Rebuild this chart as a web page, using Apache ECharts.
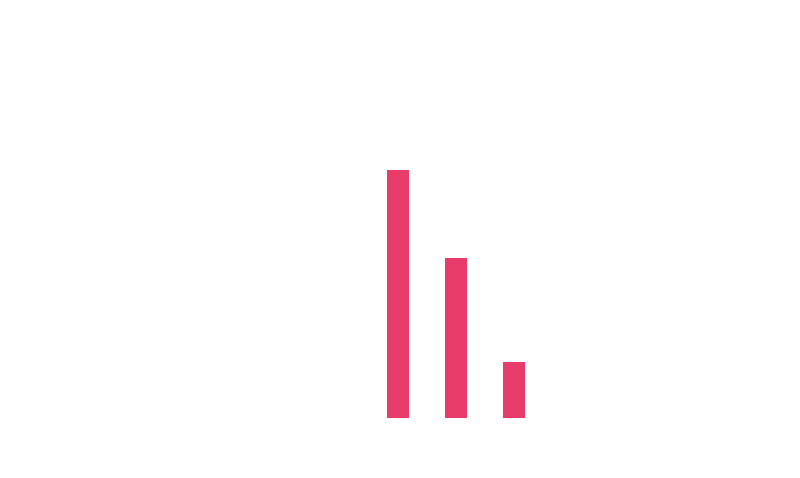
<!DOCTYPE html>
<html>
<head>
<meta charset="utf-8">
<script src="https://cdn.jsdelivr.net/npm/echarts@6/dist/echarts.min.js"></script>
<style>
  html, body { margin: 0; padding: 0; background: #fff; }
  #main { width: 800px; height: 478px; }
</style>
</head>
<body>
<div id="main"></div>
<script>
  const categories = ['A', 'B', 'C']
  const values = [31, 20, 7]

  let myChart = echarts.init(document.getElementById('main'))
  myChart.setOption({
    animation: false,
    grid: { left: 369, width: 174, top: 98, bottom: 60 },
    xAxis: {
      type: 'category',
      data: categories,
      show: false
    },
    yAxis: {
      type: 'value',
      min: 0,
      max: 40,
      show: false
    },
    series: [{
      type: 'bar',
      data: values,
      barWidth: 22,
      itemStyle: { color: '#e83c6b' }
    }]
  })
</script>
</body>
</html>
